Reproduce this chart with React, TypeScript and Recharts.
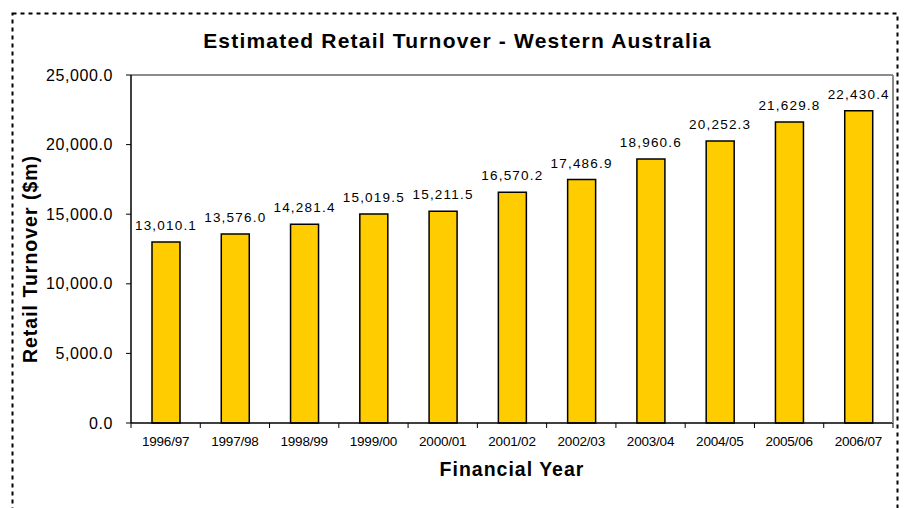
import React from "react";
import { BarChart, Bar, XAxis, YAxis, LabelList } from "recharts";

const years = [
  "1996/97", "1997/98", "1998/99", "1999/00", "2000/01", "2001/02",
  "2002/03", "2003/04", "2004/05", "2005/06", "2006/07",
];
const turnover = [
  13010.1, 13576.0, 14281.4, 15019.5, 15211.5, 16570.2,
  17486.9, 18960.6, 20252.3, 21629.8, 22430.4,
];
const yTicks = [0, 5000, 10000, 15000, 20000, 25000];

const data = years.map((year, i) => ({ year, value: turnover[i] }));

const FONT = '"Liberation Sans", Arial, sans-serif';
const fmt = (v: number) =>
  v.toLocaleString("en-US", { minimumFractionDigits: 1, maximumFractionDigits: 1 });

// category label + tick marks sitting between the categories
const XTick = (props: any) => {
  const { x, y, payload, index, width, visibleTicksCount } = props;
  const band = (width || 762) / (visibleTicksCount || years.length);
  return (
    <g>
      {index === 0 && (
        <line x1={x - band / 2} y1={y} x2={x - band / 2} y2={y + 5} stroke="#000" />
      )}
      <line x1={x + band / 2} y1={y} x2={x + band / 2} y2={y + 5} stroke="#000" />
      <text
        x={x}
        y={y + 23}
        textAnchor="middle"
        fontFamily={FONT}
        fontSize={13.5}
        letterSpacing={-0.2}
        fill="#000"
      >
        {payload.value}
      </text>
    </g>
  );
};

export default function App() {
  return (
    <div style={{ position: "absolute", left: 0, top: 0, width: 907, height: 508, background: "#fff" }}>
      <svg width={907} height={508} style={{ position: "absolute", left: 0, top: 0 }}>
        <rect
          x={12.5}
          y={13.5}
          width={885}
          height={520}
          fill="none"
          stroke="#000"
          strokeWidth={2}
          strokeDasharray="4 4"
        />
      </svg>
      <div style={{ position: "absolute", left: 0, top: 0 }}>
        <BarChart
          width={907}
          height={508}
          data={data}
          margin={{ top: 74, right: 13, bottom: 25, left: 0 }}
          barSize={28}
        >
          <XAxis
            dataKey="year"
            height={60}
            interval={0}
            tickSize={0}
            tickMargin={0}
            tickLine={false}
            axisLine={{ stroke: "#000", strokeWidth: 1.5 }}
            tick={<XTick />}
          />
          {/* grey plot frame, top and right */}
          <XAxis
            xAxisId="top"
            dataKey="year"
            orientation="top"
            height={1}
            tick={false}
            tickLine={false}
            axisLine={{ stroke: "#8c8c8c", strokeWidth: 2 }}
          />
          <YAxis
            width={131}
            domain={[0, 25000]}
            ticks={yTicks}
            tickFormatter={fmt}
            tickSize={5}
            tickMargin={13}
            axisLine={{ stroke: "#000", strokeWidth: 1.5 }}
            tickLine={{ stroke: "#000" }}
            tick={{ fill: "#000", fontSize: 16, fontFamily: FONT, letterSpacing: 0.6 }}
          />
          <YAxis
            yAxisId="right"
            type="number"
            domain={[0, 25000]}
            orientation="right"
            width={1}
            tick={false}
            tickLine={false}
            axisLine={{ stroke: "#8c8c8c", strokeWidth: 2 }}
          />
          <Bar dataKey="value" fill="#FFCC00" stroke="#000" strokeWidth={1.5} isAnimationActive={false}>
            <LabelList
              dataKey="value"
              position="top"
              offset={12}
              formatter={(v: any) => fmt(Number(v))}
              fill="#000"
              fontSize={13.5}
              fontFamily={FONT}
              letterSpacing={1.2}
            />
          </Bar>
        </BarChart>
      </div>
      <div
        style={{
          position: "absolute",
          left: 0,
          width: 907,
          top: 29,
          textAlign: "center",
          fontFamily: FONT,
          fontWeight: "bold",
          fontSize: 21,
          letterSpacing: 1.2,
          color: "#000",
          paddingLeft: 4,
        }}
      >
        Estimated Retail Turnover - Western Australia
      </div>
      <div
        style={{
          position: "absolute",
          left: 131,
          width: 762,
          top: 458,
          textAlign: "center",
          fontFamily: FONT,
          fontWeight: "bold",
          fontSize: 19.5,
          letterSpacing: 1,
          color: "#000",
        }}
      >
        Financial Year
      </div>
      <div
        style={{
          position: "absolute",
          left: 30,
          top: 259,
          transform: "translate(-50%, -50%) rotate(-90deg)",
          whiteSpace: "nowrap",
          fontFamily: FONT,
          fontWeight: "bold",
          fontSize: 19.5,
          letterSpacing: 1,
          color: "#000",
        }}
      >
        Retail Turnover ($m)
      </div>
    </div>
  );
}
